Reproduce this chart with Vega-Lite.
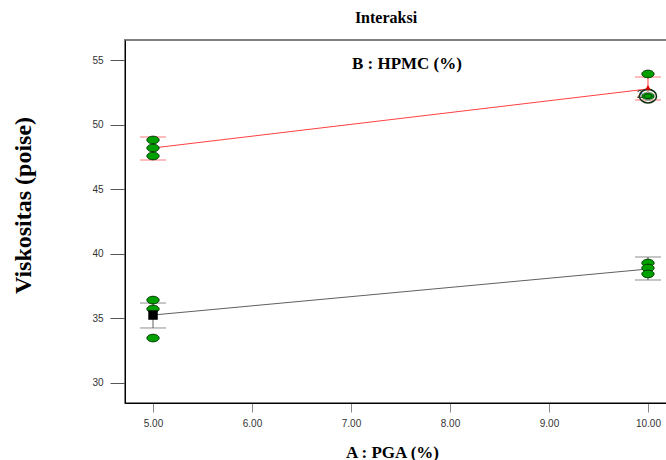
{
  "$schema": "https://vega.github.io/schema/vega-lite/v6.json",
  "autosize": "none",
  "padding": {"left": 125, "top": 40, "right": 0, "bottom": 57},
  "width": 560,
  "height": 363,
  "background": "white",
  "config": {"view": {"stroke": "#808080", "strokeWidth": 2}},
  "title": {"text": "Interaksi", "font": "Liberation Serif", "fontSize": 16, "fontWeight": "bold", "color": "#000", "anchor": "middle", "dx": -19, "offset": 14},
  "datasets": {
    "means": [
      {"pga": 5, "grp": "low", "mean": 35.26, "lo": 34.26, "hi": 36.19},
      {"pga": 10, "grp": "low", "mean": 38.82, "lo": 37.97, "hi": 39.75},
      {"pga": 5, "grp": "high", "mean": 48.19, "lo": 47.26, "hi": 49.04},
      {"pga": 10, "grp": "high", "mean": 52.76, "lo": 51.9, "hi": 53.68}
    ],
    "obs": [
      {"pga": 5, "visk": 36.42},
      {"pga": 5, "visk": 35.73},
      {"pga": 5, "visk": 33.48},
      {"pga": 10, "visk": 39.29},
      {"pga": 10, "visk": 38.9},
      {"pga": 10, "visk": 38.44},
      {"pga": 5, "visk": 48.81},
      {"pga": 5, "visk": 48.19},
      {"pga": 5, "visk": 47.57},
      {"pga": 10, "visk": 53.92},
      {"pga": 10, "visk": 52.2}
    ]
  },
  "layer": [
    {
      "data": {"name": "means"},
      "mark": {"type": "rule", "strokeWidth": 1},
      "encoding": {
        "x": {"field": "pga", "type": "quantitative",
          "scale": {"domain": [4.717, 10.374], "nice": false, "zero": false},
          "axis": {"values": [5, 6, 7, 8, 9, 10], "format": ".2f", "title": "A : PGA (%)",
            "titleFont": "Liberation Serif", "titleFontSize": 17, "titleFontWeight": "bold", "titleColor": "#000",
            "titleX": 267, "titleY": 49, "titleBaseline": "middle", "titleAlign": "center",
            "labelFont": "Liberation Sans", "labelFontSize": 10, "labelColor": "#333",
            "tickSize": 9, "tickColor": "#888", "labelPadding": 6, "domainColor": "#000", "grid": false}},
        "y": {"field": "lo", "type": "quantitative",
          "scale": {"domain": [28.452, 56.548], "nice": false, "zero": false},
          "axis": {"values": [30, 35, 40, 45, 50, 55], "format": "d", "title": "Viskositas (poise)",
            "titleFont": "Liberation Serif", "titleFontSize": 24, "titleFontWeight": "bold", "titleColor": "#000",
            "titleX": -102, "titleY": 165, "titleBaseline": "middle", "titleAlign": "center", "titleAngle": 270,
            "labelFont": "Liberation Sans", "labelFontSize": 10, "labelColor": "#333",
            "tickSize": 15, "tickColor": "#555", "labelPadding": 7, "domainColor": "#000", "grid": false}},
        "y2": {"field": "hi"},
        "color": {"field": "grp", "type": "nominal", "scale": {"domain": ["low", "high"], "range": ["#606060", "#ff4040"]}, "legend": null}
      }
    },
    {
      "data": {"name": "means"},
      "mark": {"type": "tick", "orient": "horizontal", "size": 26, "thickness": 1},
      "encoding": {
        "x": {"field": "pga", "type": "quantitative"},
        "y": {"field": "lo", "type": "quantitative"},
        "color": {"field": "grp", "type": "nominal", "legend": null}
      }
    },
    {
      "data": {"name": "means"},
      "mark": {"type": "tick", "orient": "horizontal", "size": 26, "thickness": 1},
      "encoding": {
        "x": {"field": "pga", "type": "quantitative"},
        "y": {"field": "hi", "type": "quantitative"},
        "color": {"field": "grp", "type": "nominal", "legend": null}
      }
    },
    {
      "data": {"name": "means"},
      "mark": {"type": "line", "strokeWidth": 1},
      "encoding": {
        "x": {"field": "pga", "type": "quantitative"},
        "y": {"field": "mean", "type": "quantitative"},
        "detail": {"field": "grp"},
        "color": {"field": "grp", "type": "nominal", "legend": null}
      }
    },
    {
      "data": {"name": "obs"},
      "mark": {"type": "point", "filled": true, "shape": "M-1,0A1,0.62,0,1,1,1,0A1,0.62,0,1,1,-1,0Z", "size": 150, "fill": "#00a000", "stroke": "#003300", "strokeWidth": 1, "opacity": 1},
      "encoding": {
        "x": {"field": "pga", "type": "quantitative"},
        "y": {"field": "visk", "type": "quantitative"}
      }
    },
    {
      "data": {"values": [{"pga": 10, "visk": 52.2}]},
      "mark": {"type": "point", "shape": "M-1,0A1,0.8,0,1,1,1,0A1,0.8,0,1,1,-1,0Z", "size": 290, "filled": false, "stroke": "#103010", "strokeWidth": 1.6, "opacity": 1},
      "encoding": {
        "x": {"field": "pga", "type": "quantitative"},
        "y": {"field": "visk", "type": "quantitative"}
      }
    },
    {
      "data": {"values": [{"pga": 10, "visk": 52.2}]},
      "mark": {"type": "point", "shape": "M-1,0A1,0.55,0,1,1,1,0A1,0.55,0,1,1,-1,0Z", "size": 200, "filled": false, "stroke": "#c0c0c0", "strokeWidth": 1, "opacity": 1},
      "encoding": {
        "x": {"field": "pga", "type": "quantitative"},
        "y": {"field": "visk", "type": "quantitative"}
      }
    },
    {
      "data": {"values": [{"pga": 10, "visk": 52.2}]},
      "mark": {"type": "point", "filled": true, "shape": "M-1,0A1,0.62,0,1,1,1,0A1,0.62,0,1,1,-1,0Z", "size": 60, "fill": "#00a000", "stroke": "#003300", "strokeWidth": 1, "opacity": 1},
      "encoding": {
        "x": {"field": "pga", "type": "quantitative"},
        "y": {"field": "visk", "type": "quantitative"}
      }
    },
    {
      "data": {"values": [{"pga": 10, "visk": 52.2, "n": "2"}]},
      "mark": {"type": "text", "align": "right", "baseline": "middle", "dx": -5, "dy": -1, "font": "Liberation Sans", "fontSize": 11, "color": "#333"},
      "encoding": {
        "x": {"field": "pga", "type": "quantitative"},
        "y": {"field": "visk", "type": "quantitative"},
        "text": {"field": "n"}
      }
    },
    {
      "data": {"values": [{"pga": 10, "visk": 52.88}]},
      "mark": {"type": "point", "shape": "triangle-up", "size": 30, "filled": true, "color": "#e00000", "opacity": 1},
      "encoding": {
        "x": {"field": "pga", "type": "quantitative"},
        "y": {"field": "visk", "type": "quantitative"}
      }
    },
    {
      "data": {"values": [{"pga": 5, "visk": 35.26}]},
      "mark": {"type": "point", "shape": "square", "size": 90, "filled": true, "color": "#000", "opacity": 1},
      "encoding": {
        "x": {"field": "pga", "type": "quantitative"},
        "y": {"field": "visk", "type": "quantitative"}
      }
    },
    {
      "data": {"values": [{"pga": 7.565, "visk": 54.69, "t": "B : HPMC (%)"}]},
      "mark": {"type": "text", "align": "center", "baseline": "middle", "font": "Liberation Serif", "fontSize": 17, "fontWeight": "bold", "color": "#000"},
      "encoding": {
        "x": {"field": "pga", "type": "quantitative"},
        "y": {"field": "visk", "type": "quantitative"},
        "text": {"field": "t"}
      }
    }
  ]
}
